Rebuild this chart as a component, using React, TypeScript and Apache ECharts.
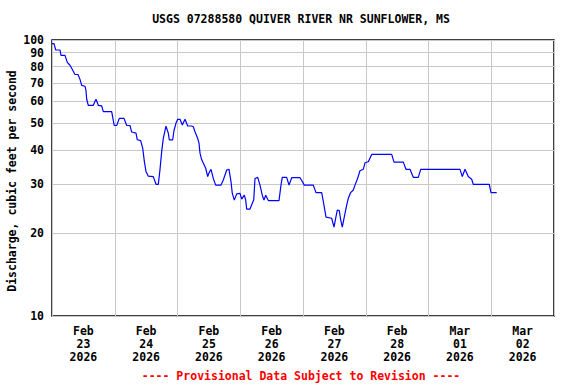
import { useEffect, useRef } from "react";
import * as echarts from "echarts";

const siteTitle = "USGS 07288580 QUIVER RIVER NR SUNFLOWER, MS";
const yAxisTitle = "Discharge, cubic feet per second";
const footerText = "---- Provisional Data Subject to Revision ----";
const dayLabels = [
  "Feb\n23\n2026",
  "Feb\n24\n2026",
  "Feb\n25\n2026",
  "Feb\n26\n2026",
  "Feb\n27\n2026",
  "Feb\n28\n2026",
  "Mar\n01\n2026",
  "Mar\n02\n2026",
];
const yTicks = [10, 20, 30, 40, 50, 60, 70, 80, 90, 100];

// hours since 2026-02-23 00:00
const hours = [
  0, 0.76, 1.42, 3.06, 3.44, 4.97, 5.85, 6.88, 7.53, 8.8, 9.94, 10.71, 11.36, 12.62, 13.0, 13.27, 13.88,
  15.8, 16.83, 17.71, 19.01, 19.62, 22.83, 23.45, 23.83, 24.75, 25.74, 27.54, 28.57, 29.83, 30.48, 32.13,
  32.62, 33.92, 34.69, 35.3, 35.95, 36.83, 38.74, 39.78, 40.66, 41.31, 41.96, 42.57, 43.6, 44.48, 44.86,
  46.16, 46.66, 47.43, 48.08, 48.96, 49.84, 50.87, 51.9, 53.43, 54.04, 54.69, 55.73, 56.22, 56.61, 57.26,
  58.25, 58.79, 59.55, 60.05, 60.81, 61.69, 62.61, 64.64, 65.52, 66.82, 67.7, 68.46, 68.96, 69.72, 70.64,
  71.9, 72.56, 73.55, 74.08, 74.47, 75.73, 76.61, 77.15, 77.64, 78.68, 79.55, 80.43, 81.08, 81.73, 82.73,
  86.82, 87.58, 88.08, 89.76, 90.65, 91.68, 94.85, 95.73, 96.5, 99.94, 100.97, 103.15, 103.76, 104.8,
  106.98, 107.86, 108.62, 109.12, 109.88, 110.42, 111.03, 111.68, 112.71, 113.33, 114.24, 115.24, 115.89,
  116.77, 117.8, 119.06, 119.71, 120.98, 122.28, 129.93, 130.8, 134.36, 135.39, 136.92, 138.18, 140.1,
  141.01, 156.05, 156.93, 157.96, 158.61, 159.22, 160.52, 161.13, 167.25, 167.9, 170.08,
];
const flow = [
  97, 97, 92, 92, 88, 88, 83, 81, 79, 75, 75, 72, 68.5, 68, 65.5, 61, 58,
  58, 61, 58, 57.7, 55, 55, 51, 49, 49, 52, 52, 49, 49, 46.4, 46,
  43.5, 43.2, 40.6, 36.4, 33.4, 32.1, 32, 30, 30, 34, 39.5, 44, 48.7, 46, 43.5,
  43.5, 47, 50, 51.6, 51.6, 49.2, 51.6, 48.8, 48.8, 48.5, 46.5, 44, 42.3, 38.9, 36.8,
  35.2, 34.3, 32, 33, 34, 31.5, 29.8, 29.8, 31.1, 33.8, 34, 30.7, 27.8, 26.3, 27.7,
  27.8, 26.5, 27.4, 26.3, 24.4, 24.4, 25.6, 26.3, 31.5, 31.8, 29.8, 27.4, 26.3, 27.4, 26.2,
  26.2, 29.8, 31.8, 31.8, 29.8, 31.7, 31.7, 30.7, 29.8, 29.8, 28, 28, 26, 22.8,
  22.6, 21, 22.9, 24.2, 24.1, 22.3, 21, 22.6, 25.2, 26.7, 28, 28.6, 29.8,
  31.3, 33.6, 34, 35.9, 36.2, 38.5, 38.5, 36.1, 36.1, 34, 34, 31.8, 31.8,
  34, 34, 32, 34, 33, 32, 31.3, 30, 30, 28, 28,
];

export default function App() {
  const ref = useRef<HTMLDivElement>(null);
  useEffect(() => {
    const chart = echarts.init(ref.current!, null, { renderer: "svg" });
    const font = "'DejaVu Sans Mono', monospace";
    const txt = { fontFamily: font, fontWeight: "bold" as const, fontSize: 11.5 };
    chart.setOption({
      animation: false,
      backgroundColor: "#ffffff",
      grid: {
        left: 52,
        top: 40,
        width: 502,
        height: 276,
        show: true,
        borderColor: "#000000",
        borderWidth: 1.5,
        backgroundColor: "transparent",
      },
      xAxis: [
        {
          type: "value",
          min: 0,
          max: 192,
          interval: 24,
          axisLabel: { show: false },
          axisTick: { show: false },
          axisLine: { show: false },
          splitLine: { show: true, lineStyle: { color: "#c8c8c8", width: 1 } },
        },
        {
          type: "category",
          data: dayLabels,
          boundaryGap: true,
          position: "bottom",
          axisLine: { show: false },
          axisTick: { show: false },
          splitLine: { show: false },
          axisLabel: { ...txt, color: "#000", lineHeight: 13, margin: 8, interval: 0 },
        },
      ],
      yAxis: {
        type: "log",
        logBase: 10,
        min: 10,
        max: 100,
        axisLine: { show: false },
        axisTick: { show: false, customValues: yTicks },
        axisLabel: { ...txt, color: "#000", margin: 8, customValues: yTicks },
        splitLine: { show: true, lineStyle: { color: "#c8c8c8", width: 1 } },
      },
      graphic: [
        {
          type: "text",
          x: 301,
          y: 19,
          style: { text: siteTitle, ...txt, fill: "#000", align: "center", verticalAlign: "middle" },
        },
        {
          type: "text",
          x: 12,
          y: 181,
          rotation: Math.PI / 2,
          style: { text: yAxisTitle, ...txt, fill: "#000", align: "center", verticalAlign: "middle" },
        },
        {
          type: "text",
          x: 301,
          y: 376,
          style: { text: footerText, ...txt, fill: "#ff0000", align: "center", verticalAlign: "middle" },
        },
      ],
      series: [
        {
          type: "line",
          xAxisIndex: 0,
          data: hours.map((h, i) => [h, flow[i]]),
          showSymbol: false,
          lineStyle: { color: "#0000ff", width: 1.2 },
          z: 3,
        },
      ],
    });
    return () => chart.dispose();
  }, []);
  return (
    <div
      ref={ref}
      style={{ position: "absolute", left: 0, top: 0, width: 576, height: 384 }}
    />
  );
}
